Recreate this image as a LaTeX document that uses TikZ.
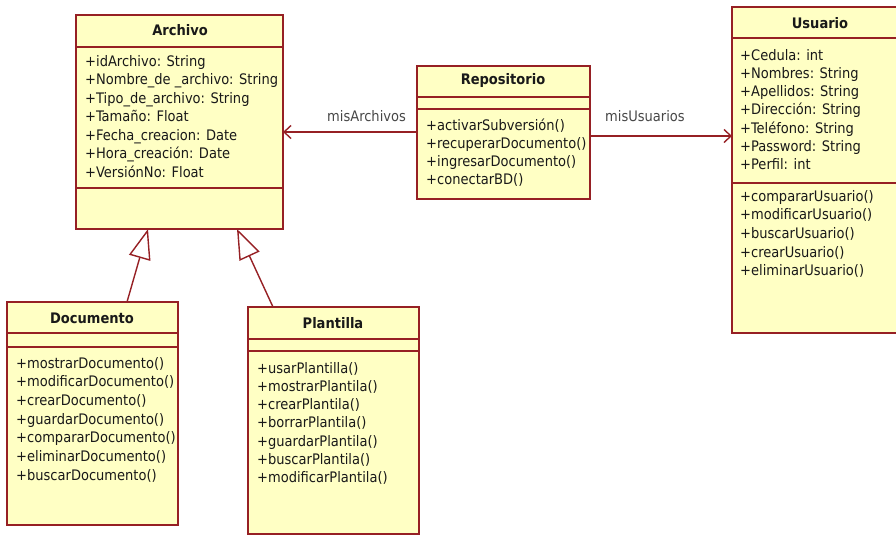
\documentclass[tikz,border=0pt]{standalone}
\usepackage{fontspec}
\setmainfont{DejaVu Sans Condensed}
\usetikzlibrary{arrows.meta,calc}

\definecolor{umlborder}{RGB}{150,32,36}
\definecolor{umlfill}{RGB}{255,255,196}
\definecolor{umltext}{RGB}{25,25,25}

% one text line per member, baselines dy apart
\newcommand\memberlist[5]{%
  \foreach \t [count=\i from 0] in {#5}
    \node[member, anchor=base west] (#1-\i) at (#2, #3+\i*#4) {\t};%
}

\begin{document}
\begin{tikzpicture}[x=1pt,y=-1pt,
  classbox/.style={draw=umlborder, fill=umlfill, line width=1.6pt,
    inner sep=0pt, outer sep=0pt, anchor=north west},
  compart/.style={draw=umlborder, line width=1.6pt},
  member/.style={inner sep=0pt, text=umltext, font=\fontsize{14.5}{16}\selectfont},
  classname/.style={inner sep=0pt, text=umltext, anchor=base,
    font=\bfseries\fontsize{14.5}{16}\selectfont},
  rolename/.style={inner sep=0pt, text=umltext!80, anchor=base west,
    font=\fontsize{14.5}{16}\selectfont},
  assoc/.style={draw=umlborder, line width=1.4pt,
    -{Straight Barb[length=7pt,width=13pt,line width=1.4pt]}},
  generalize/.style={draw=umlborder, line width=1.4pt,
    -{Triangle[open,fill=white,length=30pt,width=22pt,line width=1.4pt]}}
]
\useasboundingbox (0,0) rectangle (896,536);

% class boxes
\node[classbox, minimum width=207pt, minimum height=214pt] (archivo) at (76,15) {};
\node[classbox, minimum width=173pt, minimum height=133pt] (repo) at (417,66) {};
\node[classbox, minimum width=180pt, minimum height=326pt] (usuario) at (732,7) {};
\node[classbox, minimum width=171pt, minimum height=223pt] (documento) at (7,302) {};
\node[classbox, minimum width=171pt, minimum height=227pt] (plantilla) at (248,307) {};

% compartment separators
\foreach \b/\a/\c in {archivo/32/173, repo/31/43, usuario/31/176,
                      documento/31/45, plantilla/32/44}{
  \draw[compart] ($(\b.north west)+(0,\a)$) -- ($(\b.north east)+(0,\a)$);
  \draw[compart] ($(\b.north west)+(0,\c)$) -- ($(\b.north east)+(0,\c)$);
}

% class names
\node[classname] (archivo-name) at (180,35) {Archivo};
\node[classname] (repo-name) at (503,84) {Repositorio};
\node[classname] (usuario-name) at (820,28) {Usuario};
\node[classname] (documento-name) at (92,323) {Documento};
\node[classname] (plantilla-name) at (333,328) {Plantilla};

% members
\memberlist{archivo-attr}{85}{66}{18.5}{+idArchivo: String,
  +Nombre\_de \_archivo: String, +Tipo\_de\_archivo: String,
  +Tamaño: Float, +Fecha\_creacion: Date, +Hora\_creación: Date,
  +VersiónNo: Float}
\memberlist{repo-op}{426}{130}{18.3}{+activarSubversión(),
  +recuperarDocumento(), +ingresarDocumento(), +conectarBD()}
\memberlist{usuario-attr}{740}{60}{18.3}{+Cedula: int, +Nombres: String,
  +Apellidos: String, +Direcci\'on: String, +Teléfono: String,
  +Password: String, +Perfil: int}
\memberlist{usuario-op}{740}{201}{18.7}{+compararUsuario(),
  +modificarUsuario(), +buscarUsuario(), +crearUsuario(),
  +eliminarUsuario()}
\memberlist{documento-op}{16}{368}{18.7}{+mostrarDocumento(),
  +modificarDocumento(), +crearDocumento(), +guardarDocumento(),
  +compararDocumento(), +eliminarDocumento(), +buscarDocumento()}
\memberlist{plantilla-op}{257}{373}{18.3}{+usarPlantilla(),
  +mostrarPlantila(), +crearPlantila(), +borrarPlantila(),
  +guardarPlantila(), +buscarPlantila(), +modificarPlantila()}

% associations
\draw[assoc] (repo.west |- 0,132) -- (archivo.east |- 0,132);
\draw[assoc] (repo.east |- 0,136) -- (usuario.west |- 0,136);
\node[rolename] (role-archivos) at (327,121) {misArchivos};
\node[rolename] (role-usuarios) at (605,121) {misUsuarios};

% generalizations
\draw[generalize] ($(documento.north west)+(120,0)$) -- ($(archivo.south west)+(72,0)$);
\draw[generalize] ($(plantilla.north west)+(25,0)$) -- ($(archivo.south west)+(161,0)$);
\end{tikzpicture}
\end{document}
